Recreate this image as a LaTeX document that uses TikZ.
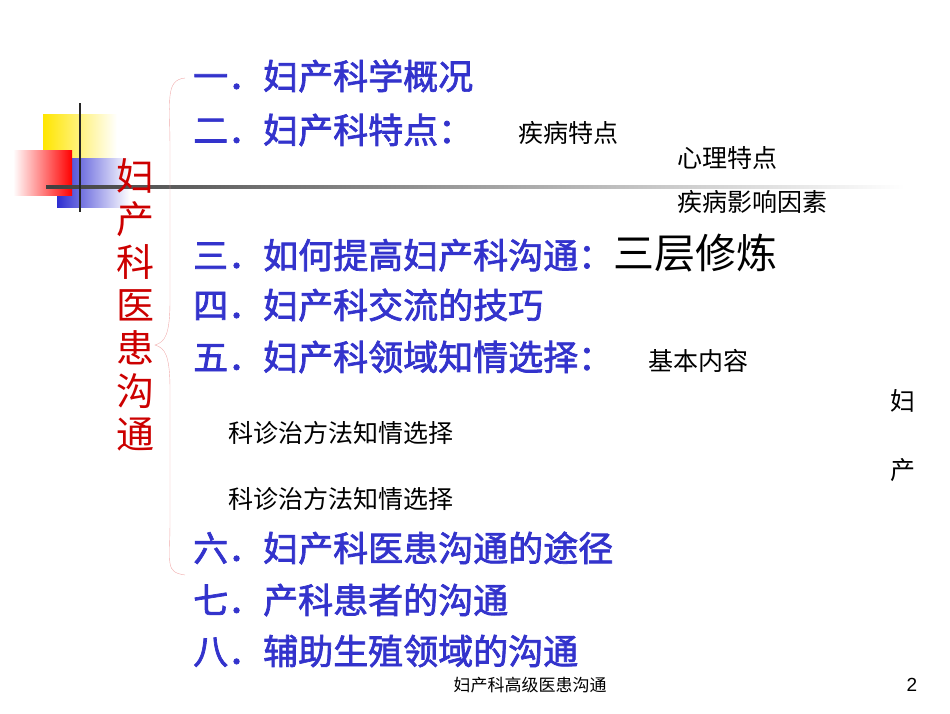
\documentclass[tikz,border=0pt]{standalone}
\usepackage{fontspec}
\setmainfont{Liberation Sans}
\newfontfamily\cjk{Noto Sans CJK SC}
\newfontfamily\cjkb[FakeBold=2]{Noto Sans CJK SC}
\tikzset{item/.style={anchor=west,inner sep=0pt,font=\cjkb\fontsize{35}{35}\selectfont,text=itemblue}}
\tikzset{small/.style={anchor=west,inner sep=0pt,font=\cjk\fontsize{25}{25}\selectfont}}
\tikzset{title/.style={inner sep=0pt,font=\cjk\fontsize{38}{38}\selectfont,text=titlered}}
\definecolor{itemblue}{RGB}{51,51,204}
\definecolor{titlered}{RGB}{204,0,0}
\definecolor{bracepink}{RGB}{240,170,170}
\begin{document}
\begin{tikzpicture}[x=1pt,y=-1pt]
        \useasboundingbox (0,0) rectangle (950,713);
        % decoration squares
        \shade[left color=yellow!80!orange,right color=white] (43,114) rectangle (117,188);
        \shade[left color=itemblue!90!blue,right color=white] (57,158) rectangle (130,207);
        \shade[left color=white,right color=red] (13,150) rectangle (72,195);
        \shade[left color=black!75,right color=white] (46,185.5) rectangle (905,188.5);
        \draw[line width=2.5pt,black!85] (80,103) -- (80,212);

        % brace
        \draw[bracepink,thin] (185,78) .. controls (165,80) and (170,100) .. (170,150)
         -- (170,300) .. controls (170,335) and (165,342) .. (155,345)
         .. controls (165,348) and (170,355) .. (170,390)
         -- (170,520) .. controls (170,565) and (165,572) .. (185,575);

        % vertical title
        \foreach \ch [count=\i from 0] in {妇,产,科,医,患,沟,通}
          \node[title] (t\i) at (135,{176+43*\i}) {\ch};

        % items
        \node[item] (i1) at (193,76) {一．妇产科学概况};
        \node[item] (i2) at (193,130) {二．妇产科特点：};
        \node[item] (i3) at (193,253) {三．如何提高妇产科沟通：\cjk\fontsize{41}{41}\selectfont\color{black}三层修炼};
        \node[item] (i4) at (193,305) {四．妇产科交流的技巧};
        \node[item] (i5) at (193,357) {五．妇产科领域知情选择：};
        \node[item] (i6) at (193,548) {六．妇产科医患沟通的途径};
        \node[item] (i7) at (193,600) {七．产科患者的沟通};
        \node[item] (i8) at (193,651) {八．辅助生殖领域的沟通};

        % small notes
        \node[small] (s1) at (518,133) {疾病特点};
        \node[small] (s2) at (677,158) {心理特点};
        \node[small] (s3) at (677,202) {疾病影响因素};
        \node[small] (s4) at (648,361) {基本内容};
        \node[small] (s5) at (890,401) {妇};
        \node[small] (s6) at (228,433) {科诊治方法知情选择};
        \node[small] (s7) at (890,470) {产};
        \node[small] (s8) at (228,499) {科诊治方法知情选择};

        % footer
        \node[inner sep=0pt,font=\cjk\fontsize{17}{17}\selectfont] (foot) at (530,685) {妇产科高级医患沟通};
        \node[inner sep=0pt,font=\fontsize{19}{19}\selectfont] (num) at (912,685) {2};
    \end{tikzpicture}
\end{document}
